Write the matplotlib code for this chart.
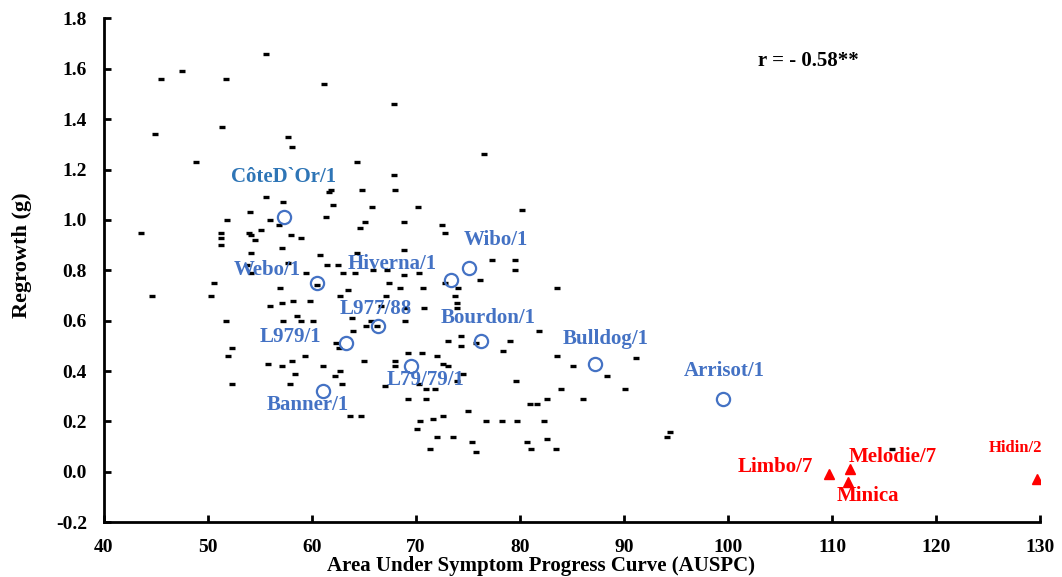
import matplotlib
matplotlib.use("Agg")
import matplotlib.pyplot as plt

plt.rcParams['font.family'] = ['Liberation Serif', 'DejaVu Serif']
plt.rcParams['font.weight'] = 'bold'

# ---- data: unlabelled genotypes (AUSPC, regrowth g) ----
other_x = [55.6, 47.5, 45.5, 51.8, 61.2, 67.9, 51.4, 44.9, 57.7, 58.1,
           48.9, 64.4, 67.9, 55.6, 57.2, 61.7, 61.9, 64.8, 68.0, 62.0,
           65.8, 70.2, 54.1, 51.9, 56.0, 61.4, 43.6, 51.3, 54.0, 54.2,
           54.6, 55.1, 56.9, 58.0, 59.0, 51.3, 51.3, 57.1, 64.6, 65.1,
           68.9, 72.5, 72.8, 76.6, 80.2, 54.2, 60.8, 64.4, 68.9, 53.8,
           54.2, 57.7, 59.5, 61.5, 62.5, 63.0, 64.2, 65.9, 67.2, 68.9,
           70.3, 77.3, 79.5, 79.5, 76.2, 50.6, 50.3, 57.0, 60.5, 63.5,
           62.7, 67.4, 68.5, 70.7, 72.8, 74.1, 73.8, 74.0, 74.0, 56.0,
           57.1, 58.2, 59.8, 67.1, 66.7, 70.8, 69.1, 51.8, 57.2, 58.6,
           59.0, 60.1, 63.9, 65.2, 65.7, 66.3, 69.0, 81.8, 64.0, 62.3,
           62.6, 73.1, 74.3, 74.3, 75.8, 79.1, 78.4, 52.3, 52.0, 44.7,
           55.8, 57.1, 58.1, 59.4, 61.1, 65.0, 69.3, 70.6, 72.0, 68.0,
           68.0, 72.6, 73.1, 58.4, 57.9, 52.3, 62.2, 62.7, 62.9, 74.5,
           74.0, 79.6, 67.0, 70.3, 71.0, 71.8, 69.3, 71.0, 81.0, 81.6,
           82.6, 63.7, 64.7, 75.0, 71.7, 72.6, 70.4, 70.1, 76.7, 78.3,
           79.7, 82.3, 72.0, 73.6, 75.4, 75.8, 71.4, 80.7, 81.1, 82.6,
           83.5, 83.6, 83.6, 85.1, 91.2, 88.4, 84.0, 86.1, 90.1, 94.4,
           94.1, 115.8]
other_y = [1.66, 1.59, 1.56, 1.56, 1.54, 1.46, 1.37, 1.34, 1.33, 1.29,
           1.23, 1.23, 1.18, 1.09, 1.07, 1.11, 1.12, 1.12, 1.12, 1.06,
           1.05, 1.05, 1.03, 1.00, 1.00, 1.01, 0.95, 0.95, 0.95, 0.94,
           0.92, 0.96, 0.98, 0.94, 0.93, 0.93, 0.90, 0.89, 0.97, 0.99,
           0.99, 0.98, 0.95, 1.26, 1.04, 0.87, 0.86, 0.87, 0.88, 0.82,
           0.79, 0.83, 0.79, 0.82, 0.82, 0.79, 0.79, 0.80, 0.80, 0.78,
           0.79, 0.84, 0.84, 0.80, 0.76, 0.75, 0.70, 0.73, 0.74, 0.72,
           0.70, 0.75, 0.73, 0.73, 0.75, 0.73, 0.70, 0.67, 0.65, 0.66,
           0.67, 0.68, 0.68, 0.70, 0.66, 0.65, 0.65, 0.60, 0.60, 0.62,
           0.60, 0.60, 0.61, 0.58, 0.60, 0.58, 0.60, 0.56, 0.56, 0.51,
           0.49, 0.52, 0.54, 0.50, 0.51, 0.52, 0.48, 0.49, 0.46, 0.70,
           0.43, 0.42, 0.44, 0.46, 0.42, 0.44, 0.47, 0.47, 0.46, 0.44,
           0.42, 0.43, 0.42, 0.39, 0.35, 0.35, 0.38, 0.40, 0.35, 0.39,
           0.36, 0.36, 0.34, 0.35, 0.33, 0.33, 0.29, 0.29, 0.27, 0.27,
           0.29, 0.22, 0.22, 0.24, 0.21, 0.22, 0.20, 0.17, 0.20, 0.20,
           0.20, 0.20, 0.14, 0.14, 0.12, 0.08, 0.09, 0.12, 0.09, 0.13,
           0.09, 0.73, 0.46, 0.42, 0.45, 0.38, 0.33, 0.29, 0.33, 0.16,
           0.14, 0.09]

# ---- labelled tolerant / intermediate genotypes (blue circles) ----
blue_names = ["CôteD`Or/1", "Webo/1", "Hiverna/1", "Wibo/1", "L977/88",
              "L979/1", "Bourdon/1", "L79/79/1", "Banner/1", "Bulldog/1",
              "Arrisot/1"]
blue_x = [57.3, 60.5, 73.4, 75.1, 66.4, 63.3, 76.3, 69.5, 61.1, 87.2, 99.5]
blue_y = [1.01, 0.75, 0.76, 0.81, 0.58, 0.51, 0.52, 0.42, 0.32, 0.43, 0.29]

# ---- susceptible genotypes (red triangles) ----
red_names = ["Limbo/7", "Melodie/7", "Minica", "Hidin/2"]
red_x = [109.7, 111.7, 111.5, 129.7]
red_y = [-0.01, 0.01, -0.04, -0.03]

x_ticks = [40, 50, 60, 70, 80, 90, 100, 110, 120, 130]
y_ticks = [-0.2, 0.0, 0.2, 0.4, 0.6, 0.8, 1.0, 1.2, 1.4, 1.6, 1.8]

BLUE = "#4472C4"
BLUE2 = "#2E75B6"
RED = "#FF0000"

fig = plt.figure(figsize=(10.62, 5.77), dpi=100)
ax = fig.add_axes([0.0975, 0.095, 0.882, 0.873])

ax.plot(other_x, other_y, linestyle='none', marker='_', color='black',
        markersize=5, markeredgewidth=2.4)
ax.plot(blue_x, blue_y, linestyle='none', marker='o', markerfacecolor='none',
        markeredgecolor=BLUE, markersize=9.5, markeredgewidth=1.6)
ax.plot(red_x, red_y, linestyle='none', marker='^', color=RED,
        markersize=7.5)

# label placements (text positions in data units)
blue_label_pos = {
    "CôteD`Or/1": (57.3, 1.171), "Webo/1": (55.7, 0.803),
    "Hiverna/1": (67.7, 0.825), "Wibo/1": (77.7, 0.92),
    "L977/88": (66.2, 0.648), "L979/1": (58.0, 0.537),
    "Bourdon/1": (77.0, 0.611), "L79/79/1": (70.9, 0.366),
    "Banner/1": (59.6, 0.267), "Bulldog/1": (88.2, 0.527),
    "Arrisot/1": (99.6, 0.399),
}
for name in blue_names:
    tx, ty = blue_label_pos[name]
    ax.text(tx, ty, name, color=BLUE2 if name.startswith("Côte") else BLUE,
            fontsize=15, fontweight='bold', ha='center', va='center')

red_label_pos = {
    "Limbo/7": (104.5, 0.019, 15), "Melodie/7": (115.8, 0.058, 15),
    "Minica": (113.4, -0.098, 15), "Hidin/2": (127.6, 0.094, 12),
}
for name in red_names:
    tx, ty, fs = red_label_pos[name]
    ax.text(tx, ty, name, color=RED, fontsize=fs, fontweight='bold',
            ha='center', va='center')

ax.text(107.7, 1.63, "r = - 0.58**", fontsize=15, fontweight='bold',
        ha='center', va='center', color='black')

ax.set_xlim(40, 130)
ax.set_ylim(-0.2, 1.8)
ax.set_xticks(x_ticks)
ax.set_yticks(y_ticks)
ax.set_xticklabels([str(t) for t in x_ticks])
ax.set_yticklabels([f"{t:.1f}" for t in y_ticks])
for s in ['top', 'right']:
    ax.spines[s].set_visible(False)
for s in ['left', 'bottom']:
    ax.spines[s].set_linewidth(2)
ax.tick_params(axis='both', direction='in', length=5, width=2,
               labelsize=14)
ax.tick_params(axis='x', pad=12)
ax.tick_params(axis='y', pad=12)
for lab in ax.get_xticklabels() + ax.get_yticklabels():
    lab.set_fontweight('bold')

ax.set_xlabel("Area Under Symptom Progress Curve (AUSPC)", fontsize=15,
              fontweight='bold')
ax.xaxis.set_label_coords(0.467, -0.067)
ax.set_ylabel("Regrowth (g)", fontsize=16, fontweight='bold')
ax.yaxis.set_label_coords(-0.076, 0.53)

fig.savefig("out.png", dpi=100)
